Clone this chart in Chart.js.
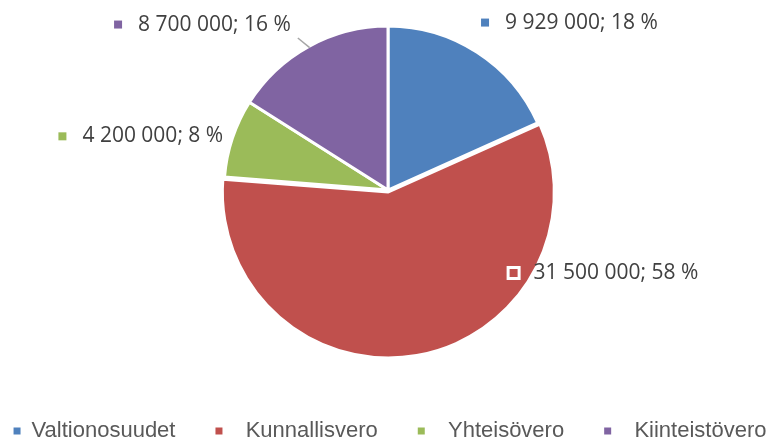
<!DOCTYPE html>
<html>
<head>
<meta charset="utf-8">
<script src="https://cdn.jsdelivr.net/npm/chart.js@4.4.1/dist/chart.umd.min.js"></script>
<style>
  html, body { margin: 0; padding: 0; background: #fff; }
  #wrap { width: 776px; height: 443px; }
</style>
</head>
<body>
<div id="wrap"><canvas id="myChart"></canvas></div>
<script>
const categories = ['Valtionosuudet', 'Kunnallisvero', 'Yhteisövero', 'Kiinteistövero'];
const amounts = [9929000, 31500000, 4200000, 8700000];
const sliceColors = ['#4F81BD', '#C0504D', '#9BBB59', '#8064A2'];
const sliceOffsets = [0, 8, 0, 0];

// where the value labels sit: turn from slice middle (deg), distance in radii, side of anchor
const labelPlace = [
    { turn: -2.8, dist: 1.18, side: 'right', leader: false },
    { turn: -46.7, dist: 0.918, side: 'right', leader: false },
    { turn: -0.4, dist: 1.057, side: 'left', leader: false },
    { turn: -1.6, dist: 1.17, side: 'left', leader: true }
];

// 9929000 -> "9 929 000"
function fmt(n) {
    return String(n).replace(/\B(?=(\d{3})+(?!\d))/g, ' ');
}

const valueLabels = {
    id: 'valueLabels',
    afterDatasetsDraw(chart) {
        const ctx = chart.ctx;
        const meta = chart.getDatasetMeta(0);
        const total = amounts.reduce((a, b) => a + b, 0);
        ctx.save();
        ctx.font = '21px "Open Sans"';
        ctx.textBaseline = 'middle';
        meta.data.forEach((arc, i) => {
            const p = labelPlace[i];
            const mid = (arc.startAngle + arc.endAngle) / 2;
            const a = mid + p.turn * Math.PI / 180;
            const r = arc.outerRadius * p.dist;
            const ax = arc.x + Math.cos(a) * r;
            const ay = arc.y + Math.sin(a) * r;
            const text = fmt(amounts[i]) + '; ' + Math.round(amounts[i] / total * 100) + ' %';
            const w = ctx.measureText(text).width;
            let mx, tx;
            if (p.side === 'right') {
                mx = ax;
                tx = ax + 20;
            } else {
                tx = ax - w;
                mx = tx - 20;
            }
            // little colour square with white rim
            ctx.fillStyle = sliceColors[i];
            ctx.fillRect(mx - 5.5, ay - 5.5, 11, 11);
            ctx.strokeStyle = '#fff';
            ctx.lineWidth = 3;
            ctx.strokeRect(mx - 5.5, ay - 5.5, 11, 11);

            ctx.fillStyle = '#404040';
            ctx.textAlign = 'left';
            ctx.fillText(text, tx, ay);

            if (p.leader) {
                const er = arc.outerRadius - 1.5;
                ctx.beginPath();
                ctx.moveTo(ax + 7, ay + 13.5);
                ctx.lineTo(arc.x + Math.cos(mid) * er, arc.y + Math.sin(mid) * er);
                ctx.strokeStyle = '#A6A6A6';
                ctx.lineWidth = 1.5;
                ctx.stroke();
            }
        });
        ctx.restore();
    }
};

const data = {
    labels: categories,
    datasets: [{
        data: amounts,
        backgroundColor: sliceColors,
        borderColor: '#fff',
        borderWidth: 3,
        offset: sliceOffsets,
        hoverOffset: 0
    }]
};

const config = {
    type: 'pie',
    data: data,
    options: {
        responsive: true,
        maintainAspectRatio: false,
        animation: false,
        radius: 164,
        layout: {
            padding: { top: -8, bottom: -9, left: -98, right: -102 }
        },
        plugins: {
            tooltip: { enabled: false },
            legend: {
                position: 'bottom',
                labels: {
                    boxWidth: 7,
                    boxHeight: 7,
                    padding: 40,
                    color: '#595959',
                    font: { family: 'Liberation Sans', size: 22 },
                    generateLabels(chart) {
                        const items = Chart.overrides.doughnut.plugins.legend.labels.generateLabels(chart);
                        return items.map((item, i) => {
                            item.lineWidth = 0;
                            if (i > 0) item.text = '  ' + item.text;
                            return item;
                        });
                    }
                }
            }
        }
    },
    plugins: [valueLabels]
};

const myChart = new Chart(
    document.getElementById('myChart'),
    config
);
</script>
</body>
</html>
